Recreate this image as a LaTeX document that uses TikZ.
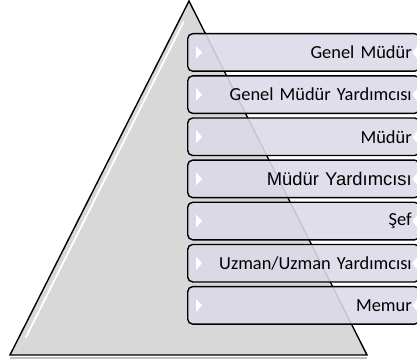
\documentclass[tikz,border=0pt]{standalone}
\usepackage{fontspec}
\setmainfont{Carlito}
\newfontfamily\arialfont{Liberation Sans}
\usetikzlibrary{positioning,calc}
\definecolor{boxfill}{RGB}{221,218,232}
\definecolor{pyrfill}{RGB}{216,216,216}
\tikzset{
    level/.style    = {draw, line width=1.4pt, rounded corners=5pt, fill=boxfill,
        fill opacity=0.9, text opacity=1, minimum width=232pt, minimum height=37.5pt,
        text width=216pt, align=right, inner xsep=8pt,
        font=\fontsize{18.4}{20}\selectfont},
    pyramid/.style  = {draw, line width=1.4pt, fill=pyrfill, line join=miter},
    bevel/.style    = {fill=white, draw=none},
}

\begin{document}
\begin{tikzpicture}[x=1pt, y=-1pt, node distance=3.25pt]
    \useasboundingbox (0,0) rectangle (417,363);
    % the pyramid behind the levels
    \coordinate (apex) at (189,1);
    \coordinate (bl) at (10,355);
    \coordinate (br) at (367,355);
    \draw [draw=black!25, line width=2pt] ([yshift=-2.5pt]bl) -- ([yshift=-2.5pt]br);
    \draw [pyramid] (apex) -- (br) -- (bl) -- cycle;
    \draw [white, line width=1.8pt, line cap=round]
        ($(apex)!0.06!(bl)+(5,0)$) -- ($(apex)!0.95!(bl)+(7,0)$);

    % the levels
    \node [level, anchor=north west] (gm) at (187,33) {Genel Müdür};
    \node [level, below=of gm] (gmy) {Genel Müdür Yardımcısı};
    \node [level, below=of gmy] (mdr) {Müdür};
    \node [level, below=of mdr, font=\arialfont\fontsize{18.4}{20}\selectfont] (mdry) {Müdür Yardımcısı};
    \node [level, below=of mdry] (sef) {Şef};
    \node [level, below=of sef] (uzman) {Uzman/Uzman Yardımcısı};
    \node [level, below=of uzman] (memur) {Memur};

    \foreach \n in {gm,gmy,mdr,mdry,sef,uzman,memur}{
        \fill [bevel] ($(\n.west)+(9pt,6.5pt)$) -- ++(6pt,-6.5pt) -- ++(-6pt,-6.5pt) -- cycle;
        \fill [bevel] ($(\n.east)+(-3pt,6.5pt)$) -- ++(-5pt,-6.5pt) -- ++(5pt,-6.5pt) -- cycle;
    }
\end{tikzpicture}
\end{document}
